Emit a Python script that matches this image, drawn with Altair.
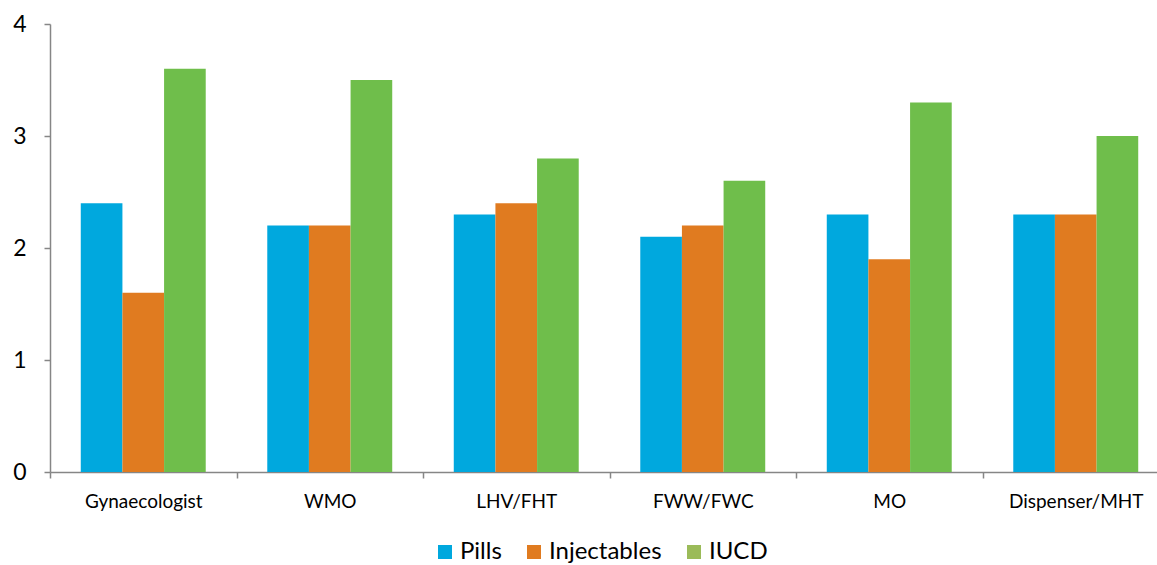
import altair as alt
import pandas as pd

# Mean scores by provider type and contraceptive method
providers = ["Gynaecologist", "WMO", "LHV/FHT", "FWW/FWC", "MO", "Dispenser/MHT"]
methods = ["Pills", "Injectables", "IUCD"]
pills = [2.4, 2.2, 2.3, 2.1, 2.3, 2.3]
injectables = [1.6, 2.2, 2.4, 2.2, 1.9, 2.3]
iucd = [3.6, 3.5, 2.8, 2.6, 3.3, 3.0]

bar_colors = ["#00A8DE", "#E07B20", "#6FBE4B"]
legend_colors = ["#00A8DE", "#E07B20", "#9BBB59"]

rows = []
for i, p in enumerate(providers):
    for m, vals in zip(methods, [pills, injectables, iucd]):
        rows.append({"provider": p, "method": m, "value": vals[i]})
df = pd.DataFrame(rows)

FONT = "Lato"
step = 186.5

x_enc = alt.X(
    "provider:N",
    sort=providers,
    title=None,
    scale=alt.Scale(range=[0, step * 6], paddingInner=0.33, paddingOuter=0.165),
    axis=alt.Axis(
        labelAngle=0,
        labelFont=FONT,
        labelFontSize=19,
        labelColor="#000000",
        labelPadding=14,
        labelOffset=step / 2,
        domainColor="#868686",
        domainWidth=1.5,
        tickColor="#868686",
        tickWidth=1.5,
        tickSize=6,
        tickOffset=-step / 2,
    ),
)

bars = alt.Chart(df).mark_bar().encode(
    x=x_enc,
    xOffset=alt.XOffset("method:N", sort=methods, scale=alt.Scale(paddingInner=0, paddingOuter=0)),
    y=alt.Y(
        "value:Q",
        title=None,
        scale=alt.Scale(domain=[0, 4], nice=False),
        axis=alt.Axis(
            values=[0, 1, 2, 3, 4],
            format="d",
            grid=False,
            labelFont=FONT,
            labelFontSize=23,
            labelColor="#000000",
            labelPadding=18,
            domainColor="#868686",
            domainWidth=1.5,
            tickColor="#868686",
            tickWidth=1.5,
            tickSize=6,
        ),
    ),
    color=alt.Color(
        "method:N",
        sort=methods,
        scale=alt.Scale(domain=methods, range=bar_colors),
        legend=None,
    ),
)

# Legend swatches drawn from an invisible layer with its own palette
legend_layer = alt.Chart(df).mark_square(opacity=0).encode(
    x=alt.X("provider:N", sort=providers),
    y=alt.Y("value:Q"),
    fill=alt.Fill(
        "method:N",
        sort=methods,
        scale=alt.Scale(domain=methods, range=legend_colors),
        legend=alt.Legend(
            title=None,
            orient="none",
            direction="horizontal",
            legendX=383,
            legendY=516,
            symbolType="square",
            symbolSize=196,
            symbolOpacity=1,
            symbolStrokeWidth=0,
            labelFont=FONT,
            labelFontSize=24,
            labelColor="#000000",
            columnPadding=20,
            labelOffset=3,
        ),
    ),
)

chart = (
    alt.layer(bars, legend_layer)
    .resolve_scale(color="independent")
    .properties(
        width=1107,
        height=448,
        autosize=alt.AutoSizeParams(type="none"),
        padding={"left": 50, "top": 24, "right": 0, "bottom": 93},
        background="#FFFFFF",
    )
    .configure_view(stroke=None)
)

chart.save("out.html", embed_options={"renderer": "svg", "actions": False})
